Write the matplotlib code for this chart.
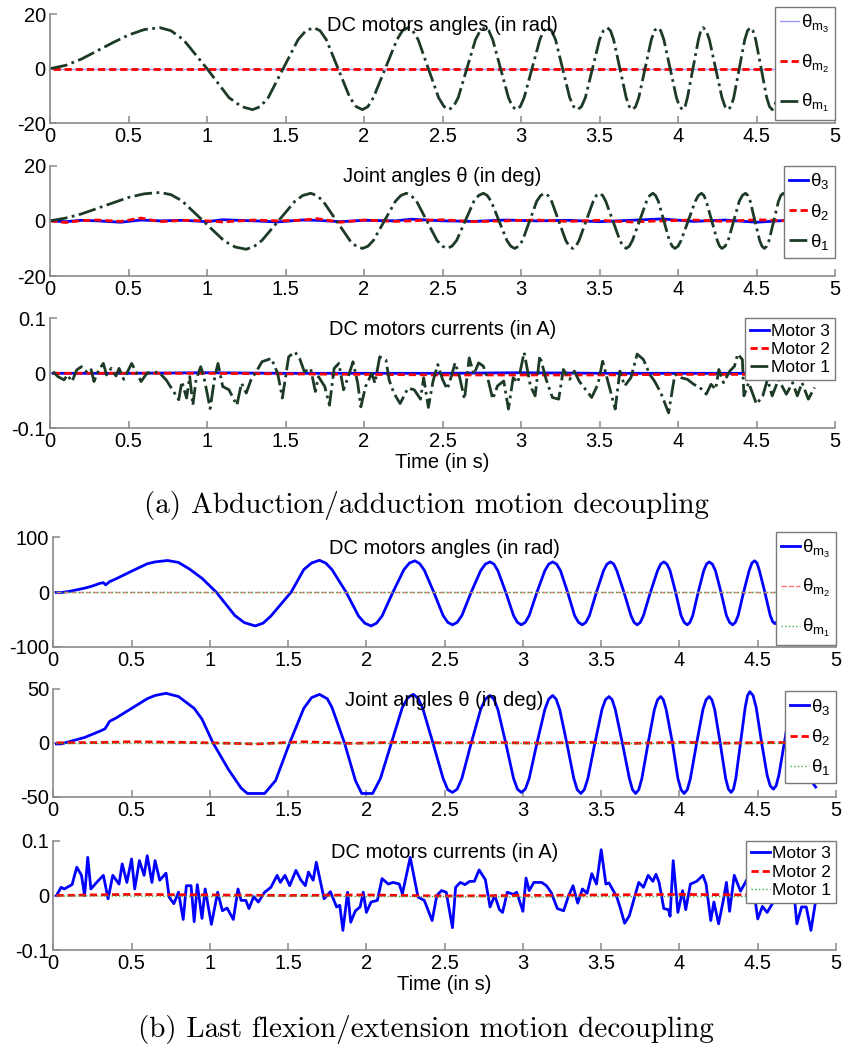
import matplotlib
matplotlib.use("Agg")
import matplotlib.pyplot as plt

plt.rcParams['font.family'] = ['Liberation Sans', 'DejaVu Sans']
plt.rcParams['mathtext.fontset'] = 'custom'
plt.rcParams['mathtext.rm'] = 'Liberation Sans'
plt.rcParams['mathtext.it'] = 'Liberation Sans'
plt.rcParams['mathtext.default'] = 'regular'
plt.rcParams['axes.unicode_minus'] = False

# ---------------- (a) abduction/adduction ----------------
# motor 1 angle (rad), (time, value)
a_motor1_angle = [
    (0, 0), (0.1, 1.2), (0.2, 3.5), (0.3, 6.5), (0.4, 9.5), (0.5, 12.3), (0.6, 14.3), (0.70, 15),
    (0.77, 13.9), (0.85, 10.6), (1.0, 0), (1.14, -10.6), (1.22, -13.9), (1.29, -15),
    (1.34, -13.9), (1.39, -10.6), (1.485, 0), (1.58, 10.6), (1.63, 13.9), (1.68, 15),
    (1.72, 13.9), (1.76, 10.6), (1.835, 0), (1.91, -10.6), (1.95, -13.9), (1.99, -15),
    (2.025, -13.9), (2.06, -10.6), (2.135, 0), (2.21, 10.6), (2.245, 13.9), (2.28, 15),
    (2.31, 13.9), (2.345, 10.6), (2.41, 0), (2.475, -10.6), (2.51, -13.9), (2.54, -15),
    (2.57, -13.9), (2.6, -10.6), (2.655, 0), (2.71, 10.6), (2.74, 13.9), (2.77, 15),
    (2.795, 13.9), (2.82, 10.6), (2.87, 0), (2.92, -10.6), (2.945, -13.9), (2.97, -15),
    (2.995, -13.9), (3.02, -10.6), (3.07, 0), (3.12, 10.6), (3.145, 13.9), (3.17, 15),
    (3.195, 13.9), (3.22, 10.6), (3.265, 0), (3.31, -10.6), (3.335, -13.9), (3.36, -15),
    (3.385, -13.9), (3.41, -10.6), (3.455, 0), (3.50, 10.6), (3.525, 13.9), (3.55, 15),
    (3.57, 13.9), (3.59, 10.6), (3.63, 0), (3.67, -10.6), (3.69, -13.9), (3.71, -15),
    (3.73, -13.9), (3.75, -10.6), (3.79, 0), (3.83, 10.6), (3.85, 13.9), (3.87, 15),
    (3.89, 13.9), (3.91, 10.6), (3.95, 0), (3.99, -10.6), (4.01, -13.9), (4.03, -15),
    (4.045, -13.9), (4.06, -10.6), (4.095, 0), (4.13, 10.6), (4.145, 13.9), (4.16, 15),
    (4.18, 13.9), (4.20, 10.6), (4.24, 0), (4.28, -10.6), (4.30, -13.9), (4.32, -15),
    (4.337, -13.9), (4.355, -10.6), (4.39, 0), (4.425, 10.6), (4.443, 13.9), (4.46, 15),
    (4.477, 13.9), (4.495, 10.6), (4.53, 0), (4.565, -10.6), (4.583, -13.9), (4.60, -15),
    (4.615, -13.9), (4.63, -10.6), (4.665, 0), (4.70, 10.6), (4.715, 13.9), (4.73, 15),
    (4.745, 13.9), (4.76, 10.6), (4.795, 0), (4.83, -10.6), (4.845, -13.9), (4.86, -15)]
t_flat = [0.02, 4.87]
th_m3_a = [0, 0]
th_m2_a = [0, 0]

# joint 1 angle (deg)
a_joint1_angle = [
    (0, 0), (0.1, 1), (0.2, 2.5), (0.3, 4.5), (0.4, 6.5), (0.5, 8.5), (0.6, 9.8), (0.70, 10.3),
    (0.77, 9.5), (0.84, 7.3), (0.975, 0), (1.11, -7.3), (1.18, -9.5), (1.25, -10.3),
    (1.30, -9.3), (1.35, -7.1), (1.455, 0), (1.56, 7.1), (1.61, 9.2), (1.66, 10),
    (1.70, 9.2), (1.74, 7.1), (1.825, 0), (1.91, -7.1), (1.95, -9.2), (1.99, -10),
    (2.025, -9.2), (2.06, -7.1), (2.13, 0), (2.20, 7.1), (2.235, 9.2), (2.27, 10),
    (2.30, 9.2), (2.335, 7.1), (2.40, 0), (2.465, -7.1), (2.50, -9.2), (2.53, -10),
    (2.56, -9.2), (2.59, -7.1), (2.645, 0), (2.70, 7.1), (2.73, 9.2), (2.76, 10),
    (2.785, 9.2), (2.81, 7.1), (2.86, 0), (2.91, -7.1), (2.935, -9.2), (2.96, -10),
    (2.985, -9.2), (3.01, -7.1), (3.055, 0), (3.10, 7.1), (3.125, 9.2), (3.15, 10),
    (3.172, 9.2), (3.195, 7.1), (3.24, 0), (3.285, -7.1), (3.307, -9.2), (3.33, -10),
    (3.35, -9.2), (3.37, -7.1), (3.415, 0), (3.46, 7.1), (3.48, 9.2), (3.50, 10),
    (3.52, 9.2), (3.54, 7.1), (3.585, 0), (3.63, -7.1), (3.65, -9.2), (3.67, -10),
    (3.69, -9.2), (3.71, -7.1), (3.755, 0), (3.80, 7.1), (3.82, 9.2), (3.84, 10),
    (3.857, 9.2), (3.875, 7.1), (3.91, 0), (3.945, -7.1), (3.963, -9.2), (3.98, -10),
    (4.00, -9.2), (4.02, -7.1), (4.065, 0), (4.11, 7.1), (4.13, 9.2), (4.15, 10),
    (4.165, 9.2), (4.18, 7.1), (4.215, 0), (4.25, -7.1), (4.265, -9.2), (4.28, -10),
    (4.30, -9.2), (4.32, -7.1), (4.355, 0), (4.39, 7.1), (4.41, 9.2), (4.43, 10),
    (4.445, 9.2), (4.46, 7.1), (4.49, 0), (4.52, -7.1), (4.535, -9.2), (4.55, -10),
    (4.565, -9.2), (4.58, -7.1), (4.61, 0), (4.64, 7.1), (4.655, 9.2), (4.67, 10),
    (4.685, 9.2), (4.70, 7.1), (4.735, 0), (4.77, -7.1), (4.785, -9.2), (4.80, -10), (4.85, -7)]
t_a_small = [0, 0.1, 0.2, 0.3, 0.45, 0.58, 0.7, 0.85, 1.0, 1.1, 1.3, 1.45, 1.6, 1.7, 1.85,
             2.0, 2.2, 2.3, 2.5, 2.7, 2.9, 3.1, 3.3, 3.5, 3.7, 3.9, 4.1, 4.3, 4.5, 4.7, 4.87]
th3_a = [0, -0.3, 0.2, 0, -0.5, 0.3, 0, 0.2, -0.3, 0.4, 0, -0.4, 0.3, 0.2, -0.3,
         0.2, 0, 0.6, 0, -0.2, 0.3, 0, 0.2, -0.3, 0.2, 0.7, -0.2, 0.3, -0.5, 0.2, 0]
th2_a = [0, -0.6, 0.1, 0.3, -0.2, 1.0, -0.3, 0.2, 0, -0.4, 0.3, 0, 0.2, 0.8, -0.5,
         0.3, -0.2, 0, 0.4, -0.3, 0, 0.3, -0.2, 0.2, -0.4, 0, 0.3, -0.2, 0.4, 0, 0]

# motor currents (A)
t_a_i1 = [0.02, 0.05, 0.09, 0.11, 0.14, 0.17, 0.2, 0.23, 0.26, 0.28, 0.31, 0.34, 0.36, 0.39,
          0.42, 0.44, 0.47, 0.52, 0.58, 0.62, 0.66, 0.69, 0.74, 0.78, 0.82, 0.84, 0.87, 0.89,
          0.91, 0.93, 0.96, 0.98, 1.02, 1.05, 1.07, 1.10, 1.14, 1.19, 1.22, 1.25, 1.28, 1.32,
          1.35, 1.38, 1.41, 1.45, 1.48, 1.52, 1.56, 1.59, 1.62, 1.66, 1.69, 1.71, 1.75, 1.78,
          1.81, 1.84, 1.87, 1.90, 1.93, 1.96, 1.98, 2.01, 2.05, 2.07, 2.10, 2.14, 2.16, 2.19,
          2.23, 2.28, 2.32, 2.36, 2.38, 2.41, 2.44, 2.47, 2.50, 2.53, 2.56, 2.58, 2.61, 2.64,
          2.67, 2.70, 2.73, 2.76, 2.79, 2.82, 2.85, 2.89, 2.92, 2.95, 2.98, 3.02, 3.06, 3.09,
          3.12, 3.16, 3.20, 3.24, 3.27, 3.31, 3.34, 3.37, 3.41, 3.45, 3.49, 3.52, 3.55, 3.60,
          3.63, 3.66, 3.70, 3.74, 3.78, 3.82, 3.85, 3.89, 3.94, 3.98, 4.02, 4.06, 4.10, 4.14,
          4.18, 4.21, 4.24, 4.26, 4.29, 4.33, 4.36, 4.38, 4.41, 4.42, 4.45, 4.50, 4.54, 4.57,
          4.60, 4.64, 4.69, 4.73, 4.76, 4.79, 4.83, 4.87]
i1_a = [0.003, -0.006, -0.012, -0.003, -0.015, 0.006, 0.012, 0.003, 0.009, -0.015, 0.006, 0.018,
        -0.003, 0.009, -0.005, 0.009, -0.011, 0.018, -0.015, 0.001, 0, 0.003, -0.012, -0.03,
        -0.048, -0.015, -0.045, -0.006, -0.058, -0.012, 0.012, -0.006, -0.064, -0.006, 0.018,
        -0.024, -0.03, -0.058, -0.018, -0.036, -0.012, 0.006, 0.021, 0.024, 0.027, 0, -0.045,
        0.03, 0.039, 0.027, 0.003, 0.009, -0.033, -0.006, -0.024, -0.058, 0.009, 0.018, -0.03,
        -0.006, 0.021, -0.018, -0.061, -0.024, 0, -0.018, 0.03, 0.024, -0.012, -0.036, -0.055,
        -0.027, -0.03, -0.047, -0.008, -0.062, -0.014, 0.016, -0.011, -0.029, -0.002, 0.019,
        -0.008, -0.047, 0.028, -0.002, 0.019, 0.013, -0.011, -0.047, -0.023, -0.014, -0.065,
        -0.008, -0.017, 0.038, -0.023, -0.041, 0.032, -0.011, -0.044, -0.047, 0.007, -0.011,
        0.004, -0.014, -0.029, -0.044, -0.02, 0.022, -0.011, -0.065, 0.004, -0.023, -0.008,
        0.035, 0.025, -0.002, -0.014, -0.035, -0.072, -0.002, -0.008, -0.011, -0.02, -0.026,
        -0.038, -0.02, -0.029, 0.007, -0.017, 0.004, 0.013, 0.035, 0.025, -0.041, -0.017,
        -0.056, -0.041, -0.011, -0.041, -0.011, -0.038, -0.017, -0.041, -0.017, -0.047, -0.026]
t_a_i_small = [0.02, 0.5, 1.0, 1.5, 2.0, 2.5, 3.0, 3.5, 4.0, 4.5, 4.87]
i3_a = [0.0, 0.0, 0.001, 0.0, 0.0, 0.0, 0.001, 0.0, 0.0, 0.0, 0.0]
i2_a = [0.0, 0.0, 0.0, -0.001, -0.002, -0.003, -0.003, -0.003, -0.002, -0.002, -0.002]

# ---------------- (b) last flexion/extension ----------------
b_motor3_angle = [
    (0.02, -1), (0.05, -1), (0.1, 1), (0.15, 4), (0.2, 7), (0.25, 11), (0.30, 16), (0.32, 17),
    (0.335, 13), (0.36, 19), (0.4, 24), (0.5, 38), (0.6, 51.6), (0.65, 55), (0.73, 57.6),
    (0.80, 54), (0.87, 42), (0.95, 25), (1.04, 0), (1.16, -43), (1.22, -56), (1.29, -62),
    (1.34, -57), (1.39, -44), (1.52, 0), (1.60, 41), (1.65, 53), (1.70, 58),
    (1.74, 53), (1.78, 41), (1.87, 0), (1.95, -44), (1.99, -57), (2.03, -62),
    (2.065, -57), (2.10, -44), (2.17, 0), (2.24, 41), (2.275, 53), (2.31, 57),
    (2.34, 52), (2.37, 40), (2.43, 0), (2.49, -43), (2.52, -55.5), (2.55, -60),
    (2.58, -55.5), (2.61, -43), (2.67, 0), (2.73, 39), (2.76, 51), (2.79, 55),
    (2.815, 51), (2.84, 39), (2.89, 0), (2.94, -43), (2.965, -55.5), (2.99, -60),
    (3.015, -55.5), (3.04, -43), (3.09, 0), (3.14, 39), (3.165, 51), (3.19, 55),
    (3.215, 51), (3.24, 39), (3.285, 0), (3.33, -43), (3.355, -55.5), (3.38, -60),
    (3.402, -55.5), (3.425, -43), (3.47, 0), (3.515, 39), (3.537, 51), (3.56, 55),
    (3.58, 51), (3.60, 39), (3.645, 0), (3.69, -43), (3.71, -55.5), (3.73, -60),
    (3.75, -55.5), (3.77, -43), (3.815, 0), (3.86, 39), (3.88, 51), (3.90, 55),
    (3.92, 51), (3.94, 39), (3.975, 0), (4.01, -43), (4.03, -55.5), (4.05, -60),
    (4.067, -55.5), (4.085, -43), (4.12, 0), (4.155, 39), (4.173, 51), (4.19, 55),
    (4.21, 51), (4.23, 39), (4.265, 0), (4.30, -43), (4.32, -55.5), (4.34, -60),
    (4.357, -55.5), (4.375, -43), (4.41, 0), (4.445, 39), (4.463, 53), (4.48, 57),
    (4.495, 53), (4.51, 40), (4.545, 0), (4.58, -43), (4.595, -54), (4.61, -58),
    (4.625, -54), (4.64, -41), (4.675, 0), (4.71, 40), (4.725, 52), (4.74, 56),
    (4.755, 52), (4.77, 40), (4.80, 0), (4.83, -41), (4.845, -53), (4.86, -57)]
th_m2_b = [0, 0]
th_m1_b = [0, 0]

b_joint3_angle = [
    (0.02, -1), (0.05, -1), (0.1, 1), (0.2, 5), (0.3, 11), (0.33, 13), (0.36, 20), (0.4, 23),
    (0.5, 32), (0.6, 41), (0.65, 44), (0.72, 46), (0.8, 43), (0.9, 32), (0.95, 22), (1.02, 0),
    (1.12, -25), (1.2, -42), (1.24, -47), (1.35, -47), (1.42, -35), (1.51, 0), (1.60, 32),
    (1.65, 42), (1.70, 45), (1.75, 41), (1.78, 33), (1.86, 0), (1.93, -35), (1.97, -47),
    (2.04, -47), (2.09, -33), (2.16, 0), (2.23, 33), (2.265, 42), (2.30, 45),
    (2.33, 41.5), (2.36, 32), (2.425, 0), (2.49, -33), (2.52, -43.5), (2.55, -46),
    (2.58, -43), (2.61, -33), (2.67, 0), (2.73, 31), (2.76, 40.6), (2.79, 44),
    (2.815, 40.6), (2.84, 31), (2.89, 0), (2.94, -33), (2.965, -43), (2.99, -46),
    (3.015, -43), (3.04, -33), (3.09, 0), (3.14, 31), (3.165, 40.6), (3.19, 44),
    (3.212, 40.6), (3.235, 31), (3.28, 0), (3.325, -33), (3.347, -43.5), (3.37, -47),
    (3.392, -43.5), (3.415, -33), (3.46, 0), (3.505, 31), (3.527, 40), (3.55, 43),
    (3.57, 40), (3.59, 31), (3.635, 0), (3.68, -33), (3.70, -43.5), (3.72, -47),
    (3.74, -43.5), (3.76, -33), (3.80, 0), (3.84, 31), (3.86, 40), (3.88, 43),
    (3.897, 40), (3.915, 31), (3.955, 0), (3.99, -33), (4.01, -43.5), (4.03, -47),
    (4.05, -43.5), (4.07, -33), (4.11, 0), (4.15, 31), (4.17, 40), (4.19, 43),
    (4.207, 40), (4.225, 31), (4.26, 0), (4.295, -33), (4.313, -43), (4.33, -46),
    (4.345, -43), (4.36, -33), (4.39, 0), (4.42, 33), (4.435, 44), (4.45, 47.5),
    (4.47, 44), (4.49, 33), (4.525, 0), (4.56, -30), (4.58, -40), (4.60, -43),
    (4.617, -40), (4.635, -30), (4.67, 0), (4.705, 31), (4.723, 40.6), (4.74, 44),
    (4.755, 40.6), (4.77, 31), (4.805, 0), (4.84, -29), (4.855, -38), (4.87, -41)]
t_b_small = [0.02, 0.3, 0.5, 0.8, 1.0, 1.3, 1.6, 1.9, 2.2, 2.5, 2.8, 3.1, 3.4, 3.7, 4.0,
             4.3, 4.6, 4.87]
th2_b = [0, 0.3, 1.0, 0.5, 0, -1.0, 1.0, -0.5, 0.5, 0, 0.3, -0.3, 0.5, -0.5, 0.5,
         -0.3, 0.3, 0]
th1_b = [0, 0, 0, 0, 0, 0, 0, 0, 0, 0, 0, 0, 0, 0, 0, 0, 0, 0]

t_b_i3 = [0.02, 0.05, 0.07, 0.12, 0.15, 0.18, 0.2, 0.22, 0.24, 0.28, 0.32, 0.35, 0.38, 0.42,
          0.44, 0.47, 0.50, 0.52, 0.55, 0.58, 0.60, 0.63, 0.65, 0.68, 0.72, 0.74, 0.77, 0.80,
          0.83, 0.85, 0.88, 0.90, 0.92, 0.95, 0.97, 1.01, 1.05, 1.08, 1.11, 1.15, 1.18, 1.20,
          1.23, 1.25, 1.28, 1.31, 1.35, 1.39, 1.43, 1.45, 1.48, 1.51, 1.55, 1.58, 1.61, 1.63,
          1.66, 1.68, 1.73, 1.77, 1.81, 1.83, 1.85, 1.88, 1.90, 1.93, 1.96, 1.98, 2.00, 2.03,
          2.07, 2.10, 2.14, 2.17, 2.21, 2.23, 2.28, 2.33, 2.37, 2.42, 2.45, 2.48, 2.51, 2.55,
          2.57, 2.60, 2.63, 2.66, 2.69, 2.72, 2.76, 2.79, 2.82, 2.85, 2.87, 2.90, 2.94, 2.96,
          3.00, 3.02, 3.04, 3.07, 3.12, 3.15, 3.18, 3.22, 3.26, 3.29, 3.32, 3.35, 3.38, 3.41,
          3.44, 3.47, 3.50, 3.53, 3.55, 3.60, 3.62, 3.65, 3.68, 3.71, 3.74, 3.77, 3.80, 3.83,
          3.85, 3.87, 3.90, 3.93, 3.94, 3.96, 3.99, 4.02, 4.04, 4.07, 4.11, 4.15, 4.17, 4.20,
          4.22, 4.25, 4.28, 4.30, 4.32, 4.35, 4.39, 4.44, 4.47, 4.50, 4.53, 4.56, 4.60, 4.63,
          4.67, 4.70, 4.73, 4.75, 4.78, 4.81, 4.84, 4.87]
i3_b = [0, 0.015, 0.012, 0.02, 0.052, 0.037, 0, 0.07, 0.012, 0.025, 0.037, -0.006, 0.037, 0.021,
        0.058, 0.024, 0.067, 0.012, 0.064, 0.037, 0.073, 0.024, 0.064, 0.028, 0.041, -0.003,
        -0.015, 0.006, -0.044, 0.018, 0.018, -0.048, 0.02, -0.042, 0.012, -0.053, 0.006, -0.028,
        -0.023, -0.044, 0.012, -0.009, -0.009, -0.024, -0.002, -0.012, 0.006, 0.015, 0.037,
        0.024, 0.037, 0.018, 0.046, 0.029, 0.018, 0.043, 0.028, 0.061, -0.006, 0.007, -0.021,
        -0.018, -0.064, 0.006, -0.049, -0.028, -0.021, 0.006, -0.031, -0.012, -0.009, 0.031,
        0.021, 0.024, 0.021, 0.003, 0.07, -0.003, -0.009, -0.046, 0, 0.009, 0.006, -0.059,
        0.015, 0.024, 0.02, 0.026, 0.026, 0.047, 0.029, -0.021, 0, -0.026, -0.031, 0.006,
        0.002, 0.006, -0.029, 0.032, 0.009, 0.024, 0.024, 0.018, 0.006, -0.024, -0.028, -0.002,
        0.018, -0.014, 0.012, 0.004, 0.04, 0.021, 0.084, 0.021, 0.023, -0.003, -0.021, -0.051,
        -0.037, -0.006, 0.024, 0.015, 0.037, 0.026, 0.039, 0.024, -0.024, -0.026, -0.038,
        0.064, -0.031, 0.009, -0.026, 0.021, 0.026, 0.037, 0.021, -0.046, -0.012, -0.052,
        -0.009, 0.024, -0.029, 0.037, 0.008, 0.034, 0.02, -0.043, -0.02, -0.031, -0.012, 0.02,
        0.03, -0.01, 0.01, -0.052, -0.021, -0.021, -0.064, -0.01]
t_b_i_small = [0.02, 0.5, 1.0, 1.5, 2.0, 2.5, 3.0, 3.5, 4.0, 4.5, 4.87]
i2_b = [0.0, 0.002, 0.001, 0.0, 0.001, -0.001, 0.0, 0.001, 0.002, 0.001, 0.001]
i1_b = [-0.001, -0.001, -0.002, -0.001, -0.002, -0.002, -0.003, -0.002, -0.002, -0.002, -0.002]

x_ticks = [0, 0.5, 1, 1.5, 2, 2.5, 3, 3.5, 4, 4.5, 5]
x_labels = ['0', '0.5', '1', '1.5', '2', '2.5', '3', '3.5', '4', '4.5', '5']

BLUE = '#0000ff'
LBLUE = '#9c9cff'
RED = '#ff0000'
LRED = '#ff7070'
DGREEN = '#1c3a26'
LGREEN = '#3cb04a'
GRAY = '#8a8a8a'
FS = 14.5

W, H = 842, 1045
fig = plt.figure(figsize=(W / 100, H / 100), dpi=100)


def make_axes(x0, x1, ytop, ybot):
    return fig.add_axes([x0 / W, 1 - ybot / H, (x1 - x0) / W, (ybot - ytop) / H])


def style(ax, ylim, yticks, title):
    ax.set_xlim(0, 5)
    ax.set_ylim(*ylim)
    ax.set_xticks(x_ticks)
    ax.set_xticklabels(x_labels)
    ax.set_yticks(yticks)
    ax.set_yticklabels([('%g' % v) for v in yticks])
    for s in ['top', 'right']:
        ax.spines[s].set_visible(False)
    for s in ['left', 'bottom']:
        ax.spines[s].set_color(GRAY)
        ax.spines[s].set_linewidth(1.2)
    ax.tick_params(direction='in', length=5, width=1.1, color=GRAY,
                   labelsize=FS, labelcolor='black', pad=3)
    ax.text(0.5, 0.985, title, transform=ax.transAxes, ha='center', va='top',
            fontsize=FS, zorder=5)


def legend(ax, anchor, fs, spacing, handlelen):
    lg = ax.legend(loc='upper right', bbox_to_anchor=anchor, borderaxespad=0,
                   fontsize=fs, labelspacing=spacing, handlelength=handlelen,
                   handletextpad=0.1, borderpad=0.3, fancybox=False, framealpha=1,
                   edgecolor='#7a7a7a')
    lg.get_frame().set_linewidth(1.0)
    lg.set_zorder(10)
    return lg


dash = (2.6, 1.4)

# (a) panel 1
ax = make_axes(50, 835, 14, 123.3)
t, v = zip(*a_motor1_angle)
ax.plot(t_flat, th_m3_a, color=LBLUE, lw=1.0, label=r'$\theta_{m_3}$')
ax.plot(t_flat, th_m2_a, color=RED, lw=2.0, dashes=dash, label=r'$\theta_{m_2}$')
ax.plot(t, v, color=DGREEN, lw=2.0, ls='-.', label=r'$\theta_{m_1}$')
style(ax, (-20, 20), [-20, 0, 20], 'DC motors angles (in rad)')
legend(ax, (1.0, 1.065), 13.5, 0.95, 1.0)

# (a) panel 2
ax = make_axes(50, 835, 165.7, 276)
t, v = zip(*a_joint1_angle)
ax.plot(t_a_small, th3_a, color=BLUE, lw=2.0, label=r'$\theta_3$')
ax.plot(t_a_small, th2_a, color=RED, lw=2.0, dashes=dash, label=r'$\theta_2$')
ax.plot(t, v, color=DGREEN, lw=2.0, ls='-.', label=r'$\theta_1$')
style(ax, (-20, 20), [-20, 0, 20], 'Joint angles θ (in deg)')
legend(ax, (1.0, 1.0), 13.5, 0.55, 1.0)

# (a) panel 3
ax = make_axes(50, 835, 318.3, 428.3)
ax.plot(t_a_i_small, i3_a, color=BLUE, lw=2.0, label='Motor 3')
ax.plot(t_a_i_small, i2_a, color=RED, lw=2.0, dashes=dash, label='Motor 2')
ax.plot(t_a_i1, i1_a, color=DGREEN, lw=2.0, ls='-.', label='Motor 1')
style(ax, (-0.1, 0.1), [-0.1, 0, 0.1], 'DC motors currents (in A)')
ax.set_xlabel('Time (in s)', fontsize=FS, labelpad=1)
legend(ax, (1.0, 1.0), 12.5, 0.18, 1.1)

fig.text(426 / W, 1 - 505 / H, '(a) Abduction/adduction motion decoupling',
         ha='center', va='center', fontsize=21, family='cmr10')

# (b) panel 4
ax = make_axes(53.3, 836, 537.3, 646.7)
t, v = zip(*b_motor3_angle)
ax.plot(t, v, color=BLUE, lw=2.0, label=r'$\theta_{m_3}$')
ax.plot(t_flat, th_m2_b, color=LRED, lw=1.0, ls='--', label=r'$\theta_{m_2}$')
ax.plot(t_flat, th_m1_b, color=LGREEN, lw=1.0, ls=':', label=r'$\theta_{m_1}$')
style(ax, (-100, 100), [-100, 0, 100], 'DC motors angles (in rad)')
legend(ax, (1.0, 1.05), 13.5, 0.95, 1.0)

# (b) panel 5
ax = make_axes(53.3, 836, 689, 796.7)
t, v = zip(*b_joint3_angle)
ax.plot(t, v, color=BLUE, lw=2.0, label=r'$\theta_3$')
ax.plot(t_b_small, th2_b, color=RED, lw=2.0, dashes=dash, label=r'$\theta_2$')
ax.plot(t_b_small, th1_b, color=LGREEN, lw=1.0, ls=':', label=r'$\theta_1$')
style(ax, (-50, 50), [-50, 0, 50], 'Joint angles θ (in deg)')
legend(ax, (1.0, 0.98), 13.5, 0.55, 1.0)

# (b) panel 6
ax = make_axes(53.3, 836, 841, 950)
ax.plot(t_b_i3, i3_b, color=BLUE, lw=2.0, label='Motor 3')
ax.plot(t_b_i_small, i2_b, color=RED, lw=2.0, dashes=dash, label='Motor 2')
ax.plot(t_b_i_small, i1_b, color=LGREEN, lw=1.0, ls=':', label='Motor 1')
style(ax, (-0.1, 0.1), [-0.1, 0, 0.1], 'DC motors currents (in A)')
ax.set_xlabel('Time (in s)', fontsize=FS, labelpad=1)
legend(ax, (1.0, 1.0), 12.5, 0.18, 1.1)

fig.text(426 / W, 1 - 1030 / H, '(b) Last flexion/extension motion decoupling',
         ha='center', va='center', fontsize=21, family='cmr10')

fig.savefig('out.png', dpi=100, facecolor='white')
